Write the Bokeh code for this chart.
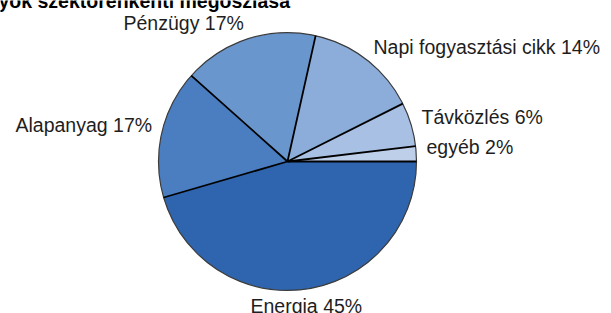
import math
from bokeh.plotting import figure
from bokeh.models import Range1d, ColumnDataSource
from bokeh.core.properties import value
from bokeh.embed import file_html
from bokeh.resources import INLINE

# ---- data (counter-clockwise from 3 o'clock) ----
sectors = ["egyéb", "Távközlés", "Napi fogyasztási cikk", "Pénzügy", "Alapanyag", "Energia"]
shares = [1.9, 5.5, 14.1, 16.9, 16.1, 45.5]
pct_labels = ["2%", "6%", "14%", "17%", "17%", "45%"]
title_text = "yok szektorenkénti megoszlása"

# ---- styling / layout ----
colors = ["#BECFEA", "#A8C0E3", "#8CADD9", "#6A96CE", "#4A7EC0", "#2E65AE"]
W, H = 611, 313
CX, CY, R = 287, 161, 129          # pie centre & radius in pixels
SHIFT = 6.5                        # renderer baseline correction
# label anchors (left, baseline) in pixels
label_pos = {
    "egyéb": (426, 153),
    "Távközlés": (421, 123),
    "Napi fogyasztási cikk": (373, 52.5),
    "Pénzügy": (123, 28.5),
    "Alapanyag": (15, 131),
    "Energia": (250, 312),
}


def to_data(px, py):
    return (px - CX) / R, (CY - (py - SHIFT)) / R


p = figure(width=W, height=H, output_backend="svg", toolbar_location=None,
           x_range=Range1d(-CX / R, (W - CX) / R), y_range=Range1d(-(H - CY) / R, CY / R),
           min_border=0, outline_line_color=None)
p.axis.visible = False
p.grid.visible = False
p.background_fill_color = "white"
p.border_fill_color = "white"

total = sum(shares)
starts, ends = [], []
acc = 0.0
for s in shares:
    starts.append(2 * math.pi * acc / total)
    acc += s
    ends.append(2 * math.pi * acc / total)

src = ColumnDataSource(dict(start=starts, end=ends, color=colors, name=sectors))
p.wedge(x=0, y=0, radius=1, start_angle="start", end_angle="end", direction="anticlock",
        fill_color="color", line_color=None, source=src)
p.scatter(x=[0], y=[0], size=2 * R, marker="circle", fill_color=None,
          line_color="#3c3c3c", line_width=1.2)
p.segment(x0=[0] * len(starts), y0=[0] * len(starts),
          x1=[math.cos(a) for a in starts], y1=[math.sin(a) for a in starts],
          line_color="black", line_width=1.8)

lx, ly, lt = [], [], []
for name, pct in zip(sectors, pct_labels):
    x, y = to_data(*label_pos[name])
    lx.append(x)
    ly.append(y)
    lt.append(f"{name} {pct}")
p.text(x=lx, y=ly, text=lt, text_font=value("Liberation Sans"), text_font_size="19.5px",
       text_color="#1e1e1e", text_align="left", text_baseline="alphabetic")

tx, ty = to_data(-2, 7)
p.text(x=[tx], y=[ty], text=[title_text], text_font=value("Liberation Sans"),
       text_font_size="19.5px", text_font_style="bold", text_color="black",
       text_align="left", text_baseline="alphabetic")

html = file_html(p, INLINE)
html = html.replace("<head>", "<head><style>html,body{margin:0;padding:0;overflow:hidden}</style>", 1)
open("out.html", "w").write(html)
